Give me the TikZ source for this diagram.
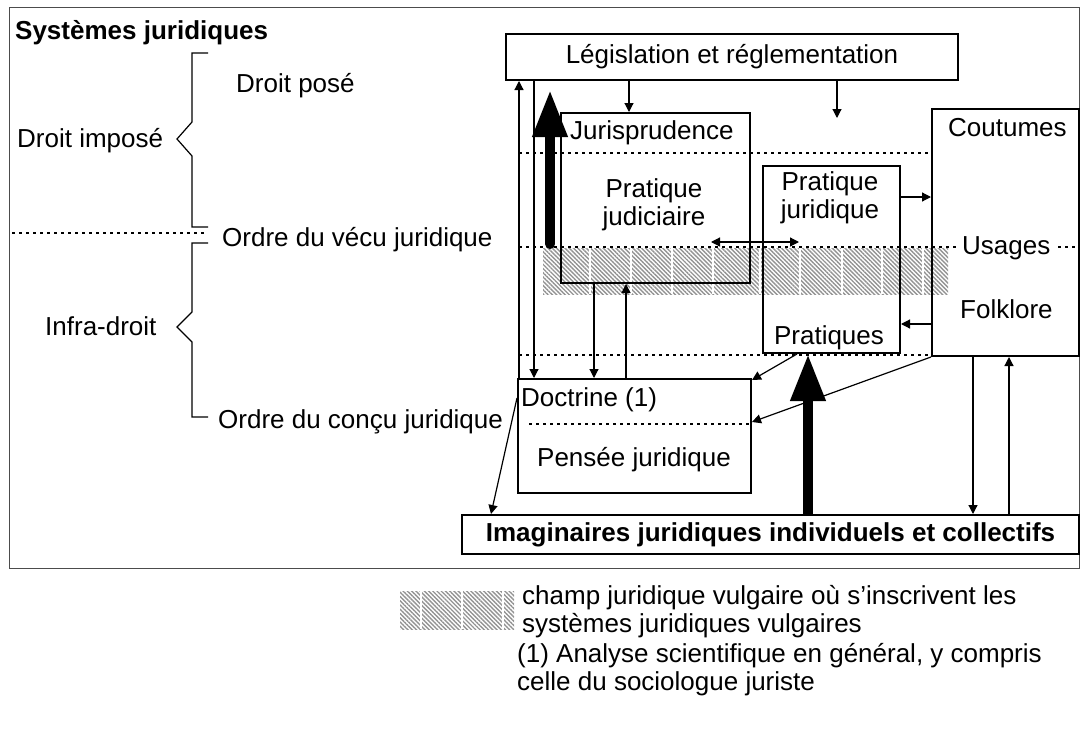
\documentclass[tikz,border=0pt]{standalone}
\usepackage{fontspec}
\setmainfont{Liberation Sans}
\usetikzlibrary{arrows.meta,patterns.meta}

\newcommand{\taille}{\fontsize{26}{28}\selectfont}

\tikzset{
  boite/.style={draw, line width=2pt, inner sep=0pt, anchor=north west},
  lbl/.style={inner sep=0pt, anchor=base west},
  fleche/.style={line width=1.2pt, -{Triangle[length=9pt,width=9pt]}},
  deuxsens/.style={line width=1.2pt, {Triangle[length=9pt,width=9pt]}-{Triangle[length=9pt,width=9pt]}},
  grosse/.style={line width=10pt, -{Triangle[length=47pt,width=33pt]}},
  pointille/.style={line width=1.3pt, dash pattern=on 3pt off 4pt},
  accolade/.style={line width=1.2pt},
  zone/.style={pattern={Lines[angle=-45,distance=3pt,line width=1.4pt]}, pattern color=gray!85},
}

\begin{document}
\begin{tikzpicture}[x=1pt,y=1pt,yscale=-1,font=\taille]
\useasboundingbox (0,0) rectangle (1080,731);

%cadre
\draw[line width=1pt, black!70] (9,7) rectangle (1079,568);

%champ juridique vulgaire
\fill[zone] (543,248) rectangle (948,294);
\foreach \x in {590,631,672,713,760,800,842,882,923}
  \draw[white, line width=1.2pt] (\x,248) -- (\x,294);

%niveaux
\draw[pointille] (12,233) -- (205,233);
\draw[pointille] (519,153) -- (931,153);
\draw[pointille] (519,247) -- (1078,247);
\draw[pointille] (519,355) -- (931,355);
\draw[pointille] (529,424) -- (749,424);

%accolades
\draw[accolade] (208,53) -- (192,53) -- (192,122) -- (177,139) -- (192,156) -- (192,227) -- (208,227);
\draw[accolade] (208,243) -- (192,243) -- (192,312) -- (177,327) -- (192,342) -- (192,417) -- (208,417);

% textes a gauche
\node[lbl, font=\taille\bfseries] (titre) at (15,39) {Systèmes juridiques};
\node[lbl] (pose) at (236,92) {Droit posé};
\node[lbl] (impose) at (17,147) {Droit imposé};
\node[lbl] (vecu) at (222,246) {Ordre du vécu juridique};
\node[lbl] (infra) at (45,335) {Infra-droit};
\node[lbl] (concu) at (218,428) {Ordre du conçu juridique};

%boites
\node[boite, minimum width=452pt, minimum height=46pt] (legis) at (505,33) {Législation et réglementation};
\node[boite, minimum width=189pt, minimum height=170pt] (juris) at (560,112) {};
\node[boite, minimum width=137pt, minimum height=187pt] (pjur) at (762,165) {};
\node[boite, minimum width=147pt, minimum height=247pt] (cout) at (931,108) {};
\node[boite, minimum width=233pt, minimum height=114pt] (doct) at (517,378) {};
\node[boite, minimum width=617pt, minimum height=39pt, font=\taille\bfseries] (imag) at (461,514) {Imaginaires juridiques individuels et collectifs};

% textes dans les boites
\node[lbl] (jurisT) at (570,139) {Jurisprudence};
\node[inner sep=0pt, align=center] (pjudT) at (654,205) {Pratique\\judiciaire};
\node[inner sep=0pt, align=center] (pjurT) at (830,198) {Pratique\\juridique};
\node[inner sep=0pt, anchor=base] (pratT) at (829,344) {Pratiques};
\node[lbl] (coutT) at (948,136) {Coutumes};
\node[lbl, fill=white, inner xsep=4pt] (usagT) at (958,254) {Usages};
\node[lbl] (folkT) at (960,318) {Folklore};
\node[lbl] (doctT) at (521,406) {Doctrine (1)};
\node[inner sep=0pt, anchor=base] (penseeT) at (634,466) {Pensée juridique};

%fleches
\coordinate (pied) at (550,244);
\coordinate (libre) at (837,118);
\draw[fleche] ([xshift=2pt]doct.north west) -- ([xshift=14pt]legis.south west);
\draw[fleche] ([yshift=20pt]doct.north west) -- ([xshift=30pt]imag.north west);
\draw[fleche] ([xshift=29pt]legis.south west) -- ([xshift=17pt]doct.north west);
\draw[grosse, line cap=round] (pied) -- ([xshift=45pt,yshift=9pt]legis.south west);
\draw[fleche] ([xshift=124pt]legis.south west) -- ([xshift=69pt]juris.north west);
\draw[fleche] (legis.south -| libre) -- (libre);
\draw[fleche] ([xshift=34pt]juris.south west) -- ([xshift=77pt]doct.north west);
\draw[fleche] ([xshift=109pt]doct.north west) -- ([xshift=66pt]juris.south west);
\draw[deuxsens] ([xshift=-40pt,yshift=-42pt]juris.south east) -- ([xshift=37pt,yshift=-112pt]pjur.south west);
\draw[fleche] ([yshift=32pt]pjur.north east) -- ([yshift=89pt]cout.north west);
\draw[fleche] ([yshift=216pt]cout.north west) -- ([yshift=159pt]pjur.north east);
\draw[fleche] ([xshift=35pt]pjur.south west) -- ([yshift=2pt]doct.north east);
\draw[fleche] (cout.south west) -- ([yshift=44pt]doct.north east);
\draw[grosse] ([xshift=347pt]imag.north west) -- ([xshift=46pt]pjur.south west);
\draw[fleche] ([xshift=42pt]cout.south west) -- ([xshift=512pt]imag.north west);
\draw[fleche] ([xshift=548pt]imag.north west) -- ([xshift=78pt]cout.south west);

%legende
\fill[zone] (400,591) rectangle (514,629);
\foreach \x in {421,462,503}
  \draw[white, line width=1.2pt] (\x,591) -- (\x,629);
\node[lbl, align=left] (leg1) at (522,632) {champ juridique vulgaire où s’inscrivent les\\systèmes juridiques vulgaires};
\node[lbl, align=left] (leg2) at (517,690) {(1) Analyse scientifique en général, y compris\\celle du sociologue juriste};

\end{tikzpicture}
\end{document}
